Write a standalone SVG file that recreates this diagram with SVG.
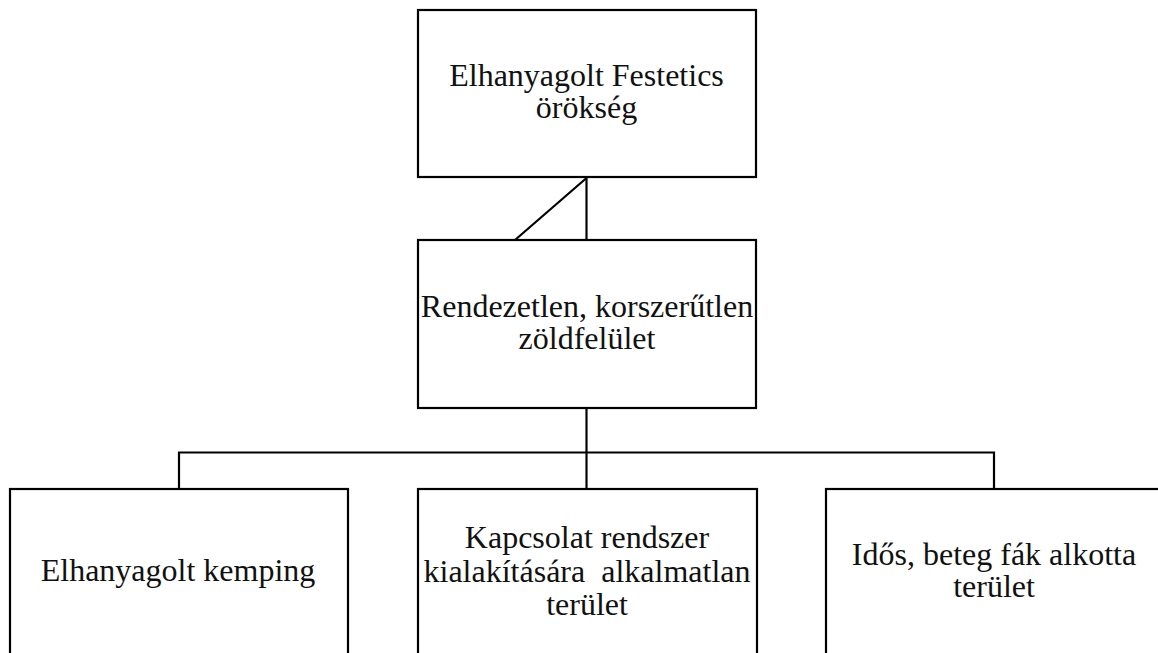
<svg xmlns="http://www.w3.org/2000/svg" width="1158" height="653" viewBox="0 0 1158 653">
  <style>
    .box { fill: #ffffff; stroke: #000000; stroke-width: 2.2; }
    .lbl { font-family: "Liberation Serif", "Times New Roman", serif; font-size: 32px; fill: #111111; text-anchor: middle; white-space: pre; }
    .wire { fill: none; stroke: #000000; stroke-width: 2.2; }
  </style>
  <rect width="1158" height="653" fill="#ffffff"/>

  <!-- connectors -->
  <g id="connectors">
    <line class="wire" x1="586.5" y1="177" x2="586.5" y2="240"/>
    <line class="wire" x1="586.5" y1="178" x2="515" y2="240"/>
    <line class="wire" x1="586.5" y1="408" x2="586.5" y2="489"/>
    <polyline class="wire" points="179,489 179,452.5 994,452.5 994,489"/>
  </g>

  <g id="node-heritage">
    <rect class="box" x="418" y="10" width="338" height="167"/>
    <text class="lbl"><tspan x="586.5" y="86">Elhanyagolt Festetics</tspan><tspan x="586.5" y="118">örökség</tspan></text>
  </g>

  <g id="node-greenspace">
    <rect class="box" x="418" y="240" width="338" height="168"/>
    <text class="lbl"><tspan x="587" y="317">Rendezetlen, korszerűtlen</tspan><tspan x="587" y="349">zöldfelület</tspan></text>
  </g>

  <g id="node-camping">
    <rect class="box" x="10" y="489" width="338" height="180"/>
    <text class="lbl" x="178" y="581">Elhanyagolt kemping</text>
  </g>

  <g id="node-connection">
    <rect class="box" x="418" y="489" width="339" height="180"/>
    <text class="lbl"><tspan x="587" y="548">Kapcsolat rendszer</tspan><tspan x="587" y="582">kialakítására  alkalmatlan</tspan><tspan x="587" y="615">terület</tspan></text>
  </g>

  <g id="node-trees">
    <rect class="box" x="826" y="489" width="340" height="180"/>
    <text class="lbl"><tspan x="994" y="565">Idős, beteg fák alkotta</tspan><tspan x="994" y="597">terület</tspan></text>
  </g>
</svg>
